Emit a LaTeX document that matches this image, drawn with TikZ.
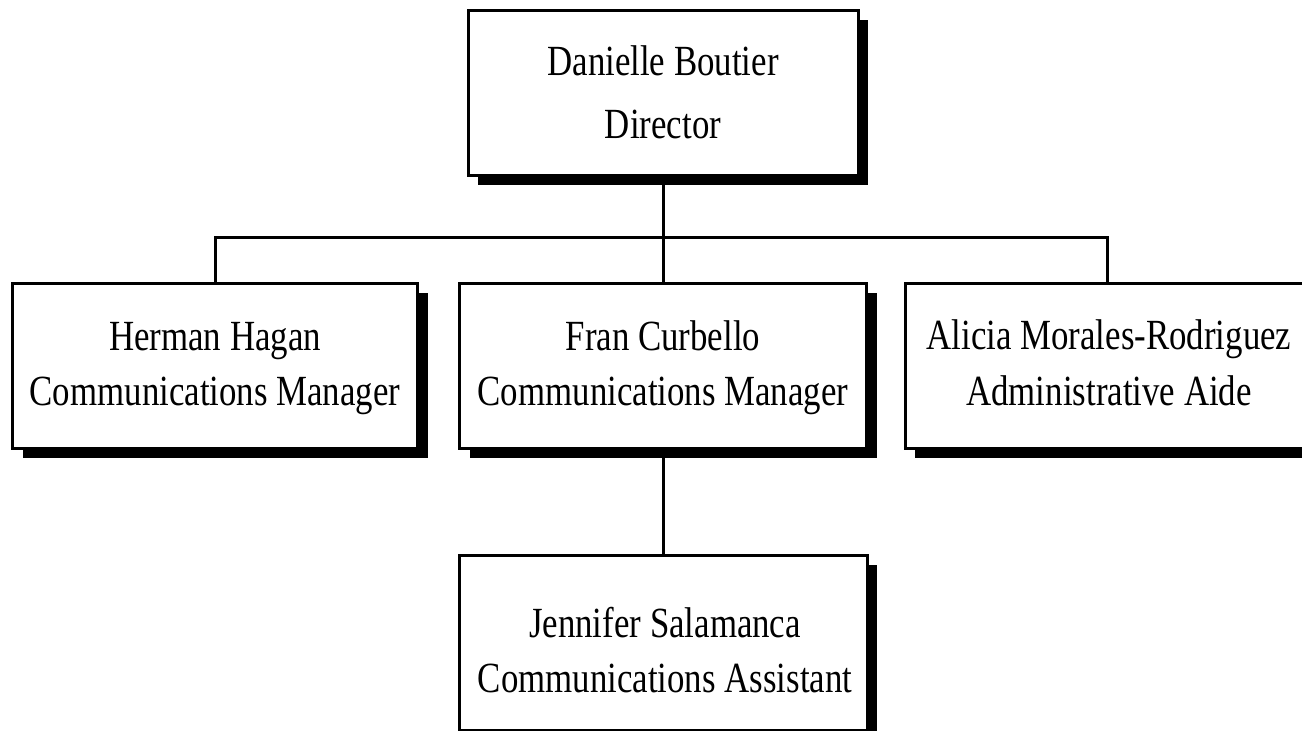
\documentclass[tikz,border=0pt]{standalone}
\usepackage{fontspec}
\setmainfont[FakeStretch=0.81]{Liberation Serif}
\usetikzlibrary{shadows}
\begin{document}
\begin{tikzpicture}[x=1pt,y=-1pt,
  orgbox/.style={draw=black, line width=3pt, fill=white, inner sep=0pt,
    general shadow={fill=black, shadow xshift=10pt, shadow yshift=-10pt}},
  conn/.style={line width=3pt, line cap=rect},
  txt/.style={font=\fontsize{43}{50}\selectfont, inner sep=0pt, anchor=base}]
\useasboundingbox[fill=white] (0,0) rectangle (1302,731);
% boxes
\node[orgbox, minimum width=390pt, minimum height=165pt] (dir) at (663,92.5) {};
\node[orgbox, minimum width=405pt, minimum height=165pt] (herman) at (215,365.5) {};
\node[orgbox, minimum width=407pt, minimum height=165pt] (fran) at (663,365.5) {};
\node[orgbox, minimum width=404pt, minimum height=165pt] (alicia) at (1107,365.5) {};
\node[orgbox, minimum width=408pt, minimum height=175pt] (jen) at (663,642.5) {};
% texts
\node[txt] (dirA) at (663,75) {Danielle Boutier};
\node[txt] (dirB) at (663,138) {Director};
\node[txt] (hermanA) at (215,350) {Herman Hagan};
\node[txt] (hermanB) at (215,405) {Communications Manager};
\node[txt] (franA) at (663,350) {Fran Curbello};
\node[txt] (franB) at (663,405) {Communications Manager};
\node[txt] (aliciaA) at (1109,349) {Alicia Morales-Rodriguez};
\node[txt] (aliciaB) at (1109,405) {Administrative Aide};
\node[txt] (jenA) at (665,637) {Jennifer Salamanca};
\node[txt] (jenB) at (665,692) {Communications Assistant};
% connectors
\coordinate (bus) at (663,237);
\draw[conn] (dir.south) -- (bus);
\draw[conn] (herman.north) |- (bus) -| (alicia.north);
\draw[conn] (bus) -- (fran.north);
\draw[conn] (fran.south) -- (jen.north);
\end{tikzpicture}
\end{document}
